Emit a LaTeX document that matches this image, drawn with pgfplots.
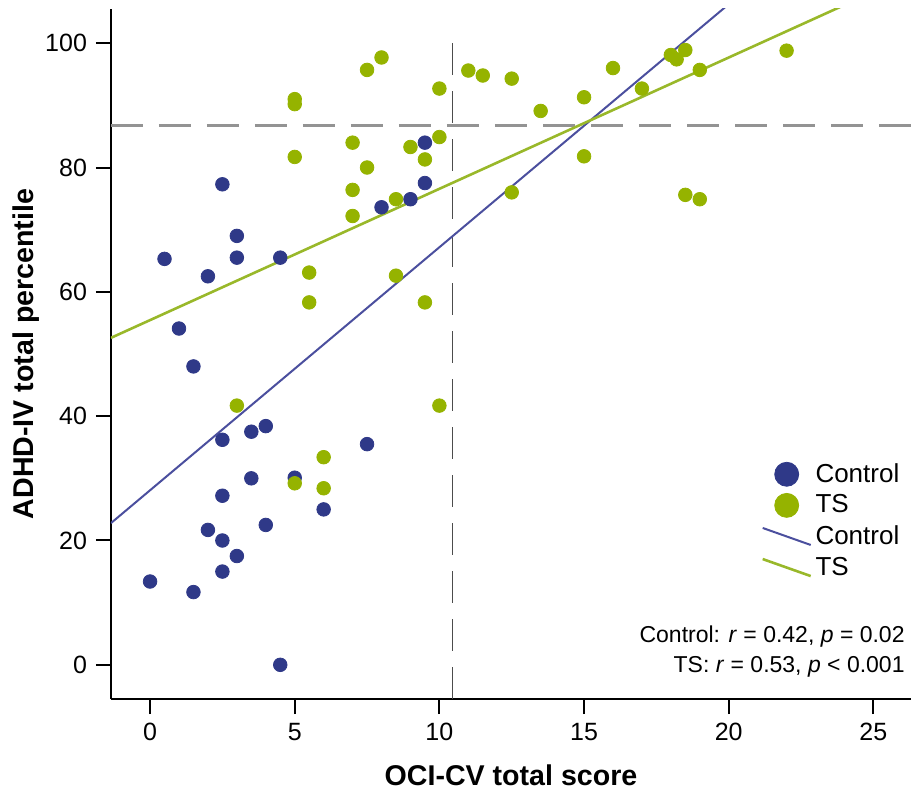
\documentclass[border=0pt]{standalone}
\usepackage{fontspec}
\setmainfont{Liberation Sans}
\usepackage{pgfplots}
\pgfplotsset{compat=1.18}
\definecolor{cblue}{RGB}{47,57,136}
\definecolor{cgreen}{RGB}{149,179,0}
\definecolor{cbline}{RGB}{75,79,158}
\definecolor{cgline}{RGB}{153,184,42}
\begin{document}
\begin{tikzpicture}
\begin{axis}[
  scale only axis,
  width=400pt, height=345pt,
  xmin=-1.35, xmax=26.3, ymin=-5.5, ymax=105.5,
  axis x line*=bottom, axis y line*=left,
  axis line style={-, line width=0.8pt, black},
  xtick={0,5,...,25}, ytick={0,20,...,100},
  tick align=outside, major tick length=7.5pt,
  tick style={black, line width=1pt},
  /pgf/number format/assume math mode=true,
  tick label style={font=\fontsize{12.5}{15}\selectfont},
  xticklabel style={yshift=-1pt},
  yticklabel style={xshift=-1pt},
  xlabel={\bfseries OCI-CV total score},
  ylabel={\bfseries ADHD-IV total percentile},
  label style={font=\fontsize{14.3}{17}\selectfont},
  xlabel style={yshift=-5pt},
  ylabel style={yshift=-4pt},
  legend style={draw=none, fill=none, at={(0.8125,0.345)}, anchor=north west,
    font=\fontsize{13}{15}\selectfont, inner xsep=0pt, inner ysep=0pt,
    row sep=2.8pt, nodes={inner xsep=1.75pt, inner ysep=1pt}},
  legend cell align=left,
]
% reference lines
\addplot[forget plot, draw=gray!85, line width=1.4pt, dash pattern=on 16pt off 8pt] coordinates {(-1.35,86.8) (26.3,86.8)};
\addplot[forget plot, draw=black!70, line width=0.8pt, dash pattern=on 16pt off 8pt] coordinates {(10.45,100) (10.45,-5.5)};
% Control points
\addplot[only marks, mark=*, mark size=3.4pt, mark options={fill=cblue, draw=cblue},
  legend image code/.code={\fill[cblue] (12pt,0pt) circle (6pt);}] coordinates {
(9.5,84.0) (2.5,77.3) (9.5,77.5) (9,74.9) (8,73.6) (3,69.0) (0.5,65.3) (3,65.5)
(4.5,65.5) (2,62.5) (1,54.1) (1.5,48.0) (2.5,36.2) (3.5,37.5) (4,38.4) (7.5,35.5)
(3.5,30.0) (5,30.1) (2.5,27.2) (6,25.0) (4,22.5) (2,21.7) (2.5,20.0) (3,17.5)
(2.5,15.0) (0,13.4) (1.5,11.7) (4.5,0)
};
\addlegendentry{Control}
% TS points
\addplot[only marks, mark=*, mark size=3.4pt, mark options={fill=cgreen, draw=cgreen},
  legend image code/.code={\fill[cgreen] (12pt,0pt) circle (6pt);}] coordinates {
(8,97.7) (7.5,95.7) (5,91.0) (5,90.2) (10,92.7) (5,81.7) (7,84.0) (9,83.3)
(10,84.9) (9.5,81.3) (7.5,80.0) (7,76.4) (8.5,74.9) (7,72.2) (5.5,63.1) (8.5,62.6)
(5.5,58.3) (9.5,58.3) (3,41.7) (10,41.7) (6,33.4) (5,29.2) (6,28.4) (11,95.6)
(11.5,94.8) (12.5,94.3) (13.5,89.1) (15,91.3) (16,96.0) (17,92.7) (18,98.1) (18.2,97.4)
(18.5,98.9) (19,95.7) (22,98.8) (15,81.8) (12.5,76.0) (18.5,75.6) (19,74.9)
};
\addlegendentry{TS}
% regression lines
\addplot[cbline, line width=1pt,
  legend image code/.code={\draw[cbline, line width=1pt] (0pt,4.25pt) -- (24pt,-4.25pt);}] coordinates {(-1.35,22.8) (26.3,130.9)};
\addlegendentry{Control}
\addplot[cgline, line width=1.3pt,
  legend image code/.code={\draw[cgline, line width=1.3pt] (0pt,4.25pt) -- (24pt,-4.25pt);}] coordinates {(-1.35,52.6) (26.3,111.0)};
\addlegendentry{TS}
\node[anchor=base east, inner sep=0pt, font=\fontsize{11.5}{14}\selectfont] at (rel axis cs:0.9925,0.0826) {Control: \textit{r} = 0.42, \textit{p} = 0.02};
\node[anchor=base east, inner sep=0pt, font=\fontsize{11.5}{14}\selectfont] at (rel axis cs:0.9925,0.0391) {TS: \textit{r} = 0.53, \textit{p} < 0.001};
\coordinate (bbtl) at (rel axis cs:-0.13875,1.01304);
\coordinate (bbbr) at (rel axis cs:1,-0.13623);
\end{axis}
\pgfresetboundingbox
\path[use as bounding box] (bbtl) rectangle (bbbr);
\end{tikzpicture}
\end{document}
